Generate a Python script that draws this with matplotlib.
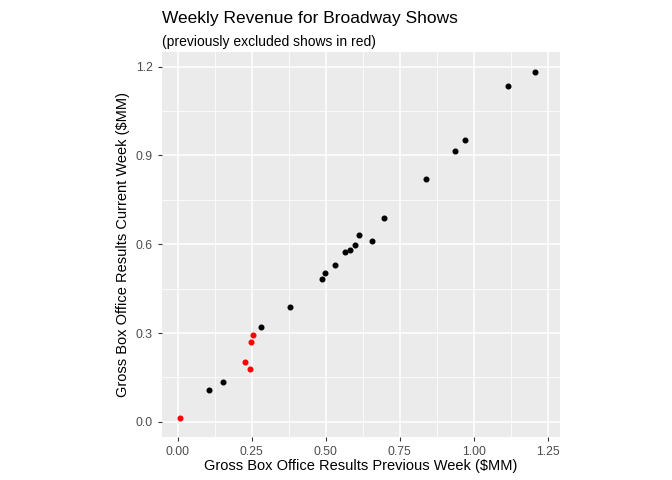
import matplotlib
matplotlib.use("Agg")
import matplotlib.pyplot as plt
import numpy as np

prev_black = [0.105, 0.152, 0.28, 0.378, 0.486, 0.497, 0.53, 0.564, 0.581, 0.598,
              0.611, 0.655, 0.696, 0.838, 0.936, 0.970, 1.115, 1.206]
curr_black = [0.108, 0.135, 0.32, 0.388, 0.483, 0.503, 0.53, 0.574, 0.581, 0.598,
              0.632, 0.611, 0.689, 0.821, 0.916, 0.953, 1.135, 1.182]
prev_red = [0.007, 0.226, 0.243, 0.247, 0.253]
curr_red = [0.013, 0.203, 0.179, 0.270, 0.294]

xticks = [0.0, 0.25, 0.5, 0.75, 1.0, 1.25]
yticks = [0.0, 0.3, 0.6, 0.9, 1.2]

plt.rcParams["font.family"] = ["Liberation Sans", "DejaVu Sans"]
fig = plt.figure(figsize=(6.72, 4.8), dpi=100)
ax = fig.add_axes([0.241, 0.0896, 0.592, 0.8024])
ax.set_facecolor("#EBEBEB")
for s in ax.spines.values():
    s.set_visible(False)

ax.set_xlim(-0.054, 1.291)
ax.set_ylim(-0.051, 1.25)
ax.set_xticks(xticks)
ax.set_xticklabels(["0.00", "0.25", "0.50", "0.75", "1.00", "1.25"])
ax.set_yticks(yticks)
ax.set_yticklabels(["0.0", "0.3", "0.6", "0.9", "1.2"])
ax.set_xticks(np.arange(0.125, 1.25, 0.25), minor=True)
ax.set_yticks(np.arange(0.15, 1.2, 0.3), minor=True)
ax.grid(which="major", color="white", linewidth=1.1)
ax.grid(which="minor", color="white", linewidth=0.55)
ax.set_axisbelow(True)
ax.tick_params(which="major", colors="#333333", labelcolor="#4D4D4D", labelsize=8.8, length=3)
ax.tick_params(which="minor", length=0)

ax.scatter(prev_black, curr_black, s=11, color="black", zorder=3)
ax.scatter(prev_red, curr_red, s=11, color="red", zorder=3)

ax.set_xlabel("Gross Box Office Results Previous Week ($MM)", fontsize=10.5, labelpad=1)
ax.set_ylabel("Gross Box Office Results Current Week ($MM)", fontsize=10.5, labelpad=4)
fig.text(0.241, 0.9625, "Weekly Revenue for Broadway Shows", fontsize=12.5, va="center")
fig.text(0.241, 0.9125, "(previously excluded shows in red)", fontsize=10, va="center")

fig.savefig("out.png", dpi=100)
